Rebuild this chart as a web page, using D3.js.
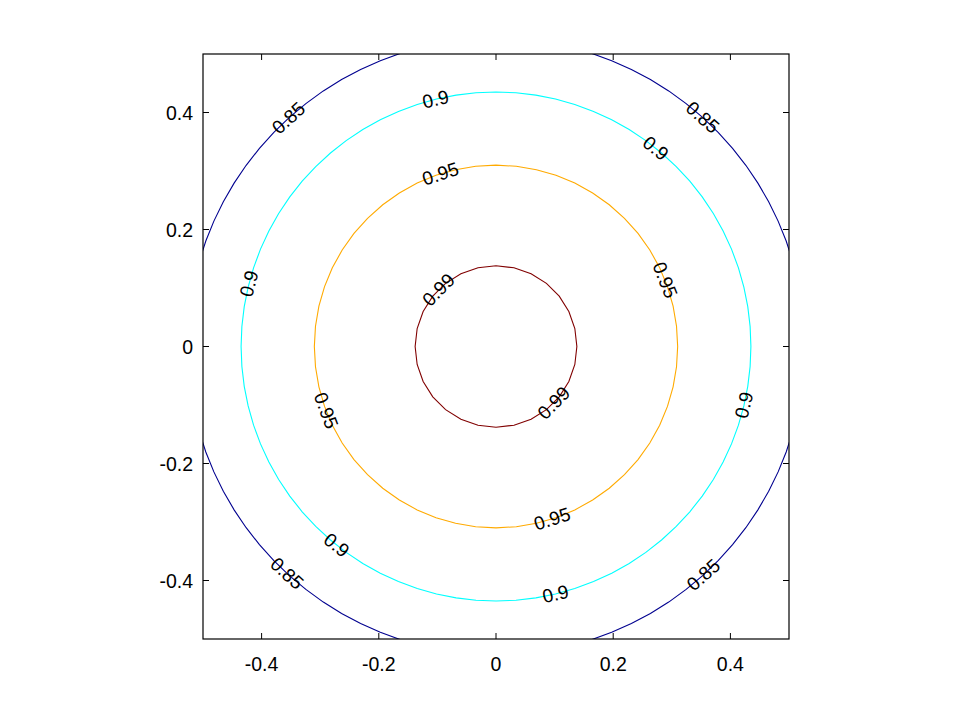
<!DOCTYPE html>
<html>
<head>
<meta charset="utf-8">
<title>contour</title>
<script src="https://cdn.jsdelivr.net/npm/d3@7"></script>
<style>
  body { margin: 0; background: #fff; }
  text { font-family: "Liberation Sans", Arial, sans-serif; }
</style>
</head>
<body>
<script>
// contour levels and the radius each one sits at
var levels = [0.85, 0.9, 0.95, 0.99];
var levelRadius = [0.527, 0.435, 0.31, 0.138];
var levelColors = ["#00008f", "#00ffff", "#ffaa00", "#800000"];
var levelSegments = [90, 80, 56, 28];
// angle (deg) of each inline label around the centre
var labelAngles = [
  [132.2, 48, -132.6, -47.8],
  [103.7, 51.2, 165.7, -13.3, -128.7, -76.5],
  [107.8, 21.5, -159.3, -72],
  [135.3, -44.3]
];
var xTicks = [-0.4, -0.2, 0, 0.2, 0.4];
var yTicks = [-0.4, -0.2, 0, 0.2, 0.4];

var width = 958, height = 719;
var margin = {left: 203, top: 54, right: 169, bottom: 80};

var svg = d3.select("body").append("svg")
  .attr("width", width)
  .attr("height", height);

var x = d3.scaleLinear().domain([-0.5, 0.5]).range([margin.left, width - margin.right]);
var y = d3.scaleLinear().domain([-0.5, 0.5]).range([height - margin.bottom, margin.top]);

svg.append("clipPath").attr("id", "plotclip")
  .append("rect")
  .attr("x", x(-0.5)).attr("y", y(0.5))
  .attr("width", x(0.5) - x(-0.5)).attr("height", y(-0.5) - y(0.5));

// contour lines
var line = d3.line().x(function(d) { return x(d[0]); }).y(function(d) { return y(d[1]); });
var g = svg.append("g").attr("clip-path", "url(#plotclip)");
levels.forEach(function(lv, i) {
  var n = levelSegments[i], r = levelRadius[i], pts = [];
  for (var k = 0; k <= n; k++) {
    var a = 2 * Math.PI * k / n;
    pts.push([r * Math.cos(a), r * Math.sin(a)]);
  }
  g.append("path")
    .attr("d", line(pts))
    .attr("fill", "none")
    .attr("stroke", levelColors[i])
    .attr("stroke-width", 1.1);
});

// inline labels
levels.forEach(function(lv, i) {
  var r = levelRadius[i];
  labelAngles[i].forEach(function(deg) {
    var a = deg * Math.PI / 180;
    var px = x(r * Math.cos(a)), py = y(r * Math.sin(a));
    var rot = -deg - 90;
    while (rot <= -90) rot += 180;
    while (rot > 90) rot -= 180;
    svg.append("text")
      .attr("transform", "translate(" + px + "," + py + ") rotate(" + rot + ")")
      .attr("text-anchor", "middle")
      .attr("dominant-baseline", "central")
      .attr("font-size", 19)
      .attr("fill", "#000")
      .text(String(lv));
  });
});

// frame and ticks
var axG = svg.append("g");
axG.append("rect")
  .attr("x", x(-0.5)).attr("y", y(0.5))
  .attr("width", x(0.5) - x(-0.5)).attr("height", y(-0.5) - y(0.5))
  .attr("fill", "none").attr("stroke", "#000").attr("stroke-width", 1.2);

var tl = 6;
xTicks.forEach(function(t) {
  axG.append("line").attr("x1", x(t)).attr("x2", x(t))
    .attr("y1", y(-0.5)).attr("y2", y(-0.5) - tl).attr("stroke", "#000");
  axG.append("line").attr("x1", x(t)).attr("x2", x(t))
    .attr("y1", y(0.5)).attr("y2", y(0.5) + tl).attr("stroke", "#000");
  axG.append("text").attr("x", x(t)).attr("y", y(-0.5) + 25)
    .attr("text-anchor", "middle").attr("dominant-baseline", "central")
    .attr("font-size", 19.5).text(String(t));
});
yTicks.forEach(function(t) {
  axG.append("line").attr("x1", x(-0.5)).attr("x2", x(-0.5) + tl)
    .attr("y1", y(t)).attr("y2", y(t)).attr("stroke", "#000");
  axG.append("line").attr("x1", x(0.5)).attr("x2", x(0.5) - tl)
    .attr("y1", y(t)).attr("y2", y(t)).attr("stroke", "#000");
  axG.append("text").attr("x", x(-0.5) - 10).attr("y", y(t))
    .attr("text-anchor", "end").attr("dominant-baseline", "central")
    .attr("font-size", 19.5).text(String(t));
});
</script>
</body>
</html>
